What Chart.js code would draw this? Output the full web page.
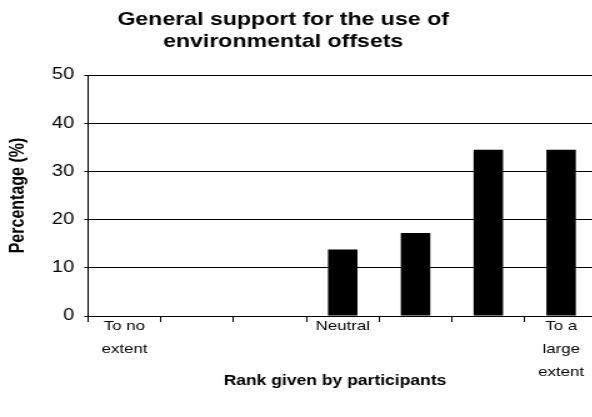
<!DOCTYPE html>
<html>
<head>
<meta charset="utf-8">
<script src="https://cdn.jsdelivr.net/npm/chart.js@4.4.1/dist/chart.umd.min.js"></script>
<style>
  html, body { margin: 0; padding: 0; background: #fff; overflow: hidden; width: 592px; height: 417px; }
  #wrap { width: 592px; height: 417px; overflow: hidden; }
  /* the figure is drawn narrow and widened horizontally */
  canvas { display: block; transform: scaleX(1.25); transform-origin: 0 0; }
</style>
</head>
<body>
<div id="wrap"><canvas id="c" width="484" height="417"></canvas></div>
<script>
// Rating scale, 1 (to no extent) to 7 (to a large extent)
const categories = [['To no', 'extent'], '', '', 'Neutral', '', '', ['To a', 'large', 'extent']];
// Share of participants choosing each rank (%)
const percentages = [0, 0, 0, 13.8, 17.2, 34.5, 34.5];
const yTicks = [0, 10, 20, 30, 40, 50];
const chartTitle = ['General support for the use of', 'environmental offsets'];
const xTitle = 'Rank given by participants';
const yTitle = 'Percentage (%)';

const FONT = "'Liberation Sans', Arial, sans-serif";

// Draws the two-line heading and the horizontal axis caption
const captions = {
  id: 'captions',
  afterDraw(chart) {
    const ctx = chart.ctx;
    ctx.save();
    ctx.fillStyle = '#000';
    ctx.textAlign = 'center';
    ctx.textBaseline = 'middle';
    ctx.font = `bold 18.5px ${FONT}`;
    chartTitle.forEach((line, i) => ctx.fillText(line, 226.5, 20 + i * 22));
    ctx.font = `bold 14px ${FONT}`;
    ctx.fillText(xTitle, 268, 381);
    ctx.restore();
  }
};

new Chart(document.getElementById('c'), {
  type: 'bar',
  data: {
    labels: categories,
    datasets: [{
      data: percentages,
      backgroundColor: '#000',
      borderWidth: 0,
      barPercentage: 0.405,
      categoryPercentage: 1.0
    }]
  },
  plugins: [captions],
  options: {
    responsive: false,
    animation: false,
    events: [],
    layout: { padding: { left: 0, right: 6, top: 75, bottom: 0 } },
    plugins: {
      legend: { display: false },
      tooltip: { enabled: false },
      title: { display: false }
    },
    scales: {
      x: {
        offset: true,
        afterFit: (scale) => { scale.height = 101; },
        grid: {
          offset: true,
          drawOnChartArea: false,
          drawTicks: true,
          tickLength: 6,
          color: '#000'
        },
        border: { display: true, color: '#000', width: 1 },
        ticks: {
          color: '#000',
          font: { family: FONT, size: 13.5, lineHeight: 1.7 },
          maxRotation: 0,
          autoSkip: false,
          padding: -7.5
        }
      },
      y: {
        min: 0,
        max: 50,
        afterBuildTicks: (scale) => { scale.ticks = yTicks.map(v => ({ value: v })); },
        afterFit: (scale) => { scale.width = 70.4; },
        grid: {
          color: '#000',
          lineWidth: 1,
          drawTicks: true,
          tickLength: 3
        },
        border: { display: true, color: '#000', width: 1 },
        ticks: {
          color: '#000',
          font: { family: FONT, size: 16 },
          padding: 8
        },
        title: {
          display: true,
          text: yTitle,
          color: '#000',
          font: { family: FONT, size: 16, weight: 'bold' },
          padding: { top: 4.8, bottom: 0 }
        }
      }
    }
  }
});
</script>
</body>
</html>
